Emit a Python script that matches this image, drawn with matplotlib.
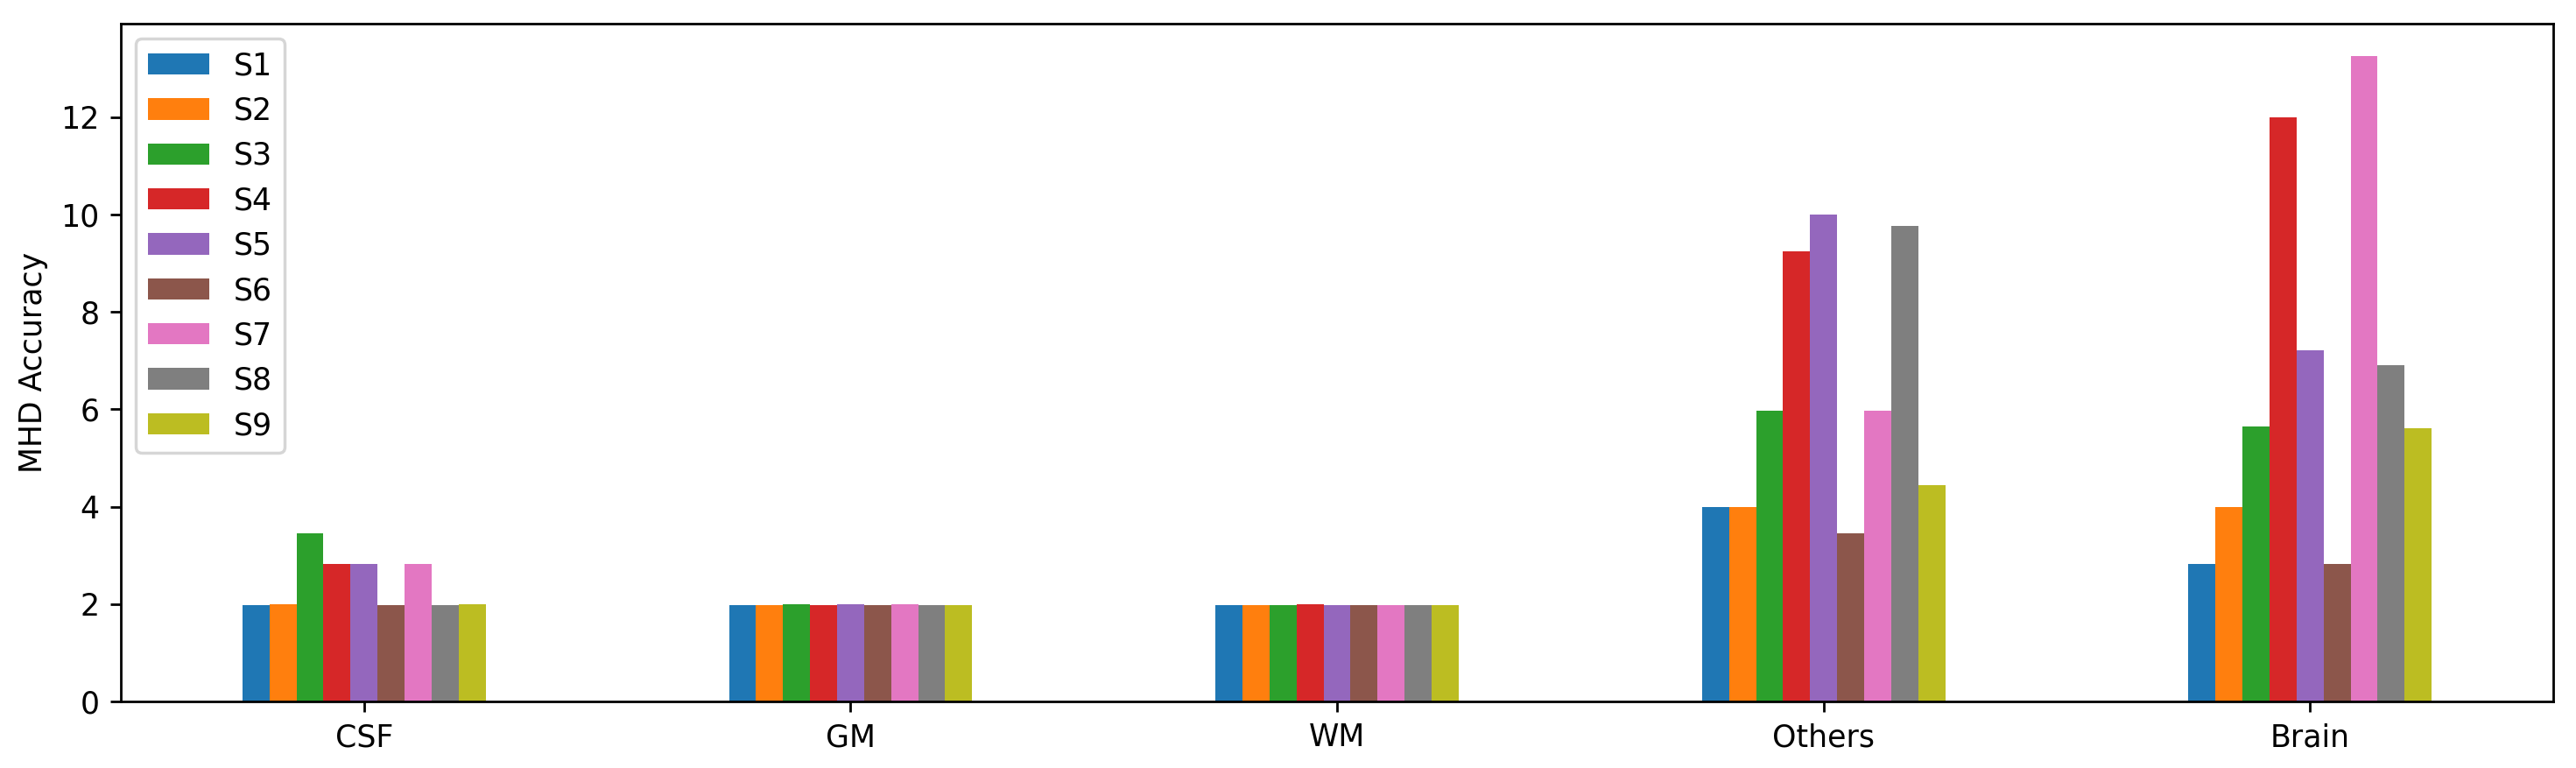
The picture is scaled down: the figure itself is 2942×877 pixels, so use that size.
import numpy as np
import pandas as pd
import matplotlib
matplotlib.use('Agg')
import matplotlib.pyplot as plt

regions = ['CSF', 'GM', 'WM', 'Others', 'Brain']
series = ['S1', 'S2', 'S3', 'S4', 'S5', 'S6', 'S7', 'S8', 'S9']

s1 = [1.97, 1.97, 1.97, 4.00, 2.83]
s2 = [2.00, 1.97, 1.97, 4.00, 4.00]
s3 = [3.46, 2.00, 1.97, 5.97, 5.64]
s4 = [2.83, 1.97, 2.00, 9.24, 12.00]
s5 = [2.83, 2.00, 1.97, 10.00, 7.21]
s6 = [1.97, 1.97, 1.97, 3.46, 2.83]
s7 = [2.83, 2.00, 1.97, 5.97, 13.26]
s8 = [1.97, 1.97, 1.97, 9.76, 6.90]
s9 = [2.00, 1.97, 1.97, 4.44, 5.61]

df = pd.DataFrame({'S1': s1, 'S2': s2, 'S3': s3, 'S4': s4, 'S5': s5,
                   'S6': s6, 'S7': s7, 'S8': s8, 'S9': s9}, index=regions)

# 2942 x 877 px at 250 dpi
fig, ax = plt.subplots(figsize=(11.768, 3.508), dpi=250)
fig.subplots_adjust(left=0.0469, right=0.9912, top=0.9692, bottom=0.0867)

df.plot(kind='bar', ax=ax, rot=0)
ax.set_ylabel('MHD Accuracy')
ax.legend(loc='upper left')

plt.savefig('out.png', dpi=250)
plt.close()
